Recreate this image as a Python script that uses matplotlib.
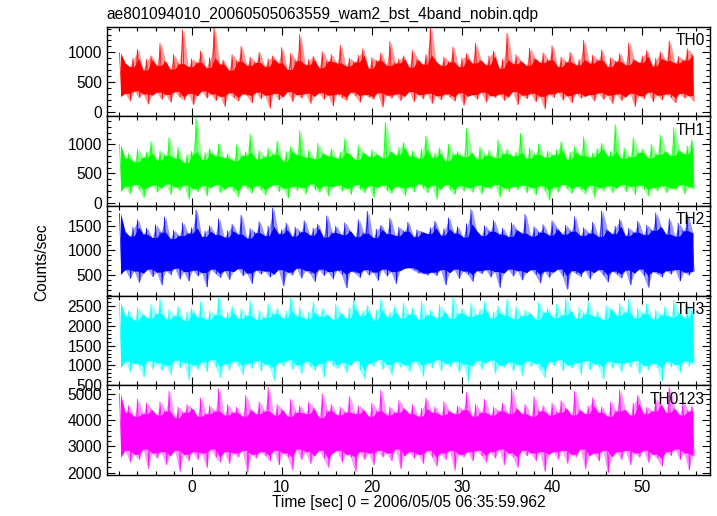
import numpy as np
import pandas as pd
import matplotlib
matplotlib.use('Agg')
import matplotlib.pyplot as plt
from matplotlib.ticker import MultipleLocator

plt.rcParams['font.family'] = ['Liberation Sans', 'DejaVu Sans']

# Light curve: 0.25 s bins starting at t = -8 s (read/estimated from the picture)
t_start = -8.0
bin_width = 0.25

th0 = [
    990, 260, 820, 310, 760, 180, 900, 350, 1050, 240, 700, 300, 880, 130, 940, 280,
    780, 330, 1150, 210, 850, 290, 720, 160, 960, 340, 810, 250, 1380, 200, 760, 310,
    890, 120, 830, 270, 1020, 350, 740, 230, 910, 300, 1420, 190, 800, 260, 870, 90,
    700, 320, 960, 240, 850, 180, 1100, 300, 780, 270, 920, 150, 830, 330, 1000, 220,
    760, 280, 890, 60, 940, 310, 820, 200, 1080, 250, 710, 340, 980, 170, 860, 290,
    1300, 230, 790, 310, 880, 140, 930, 260, 740, 320, 1010, 210, 850, 280, 960, 100,
    820, 300, 1120, 240, 770, 190, 900, 330, 840, 270, 950, 160, 1060, 290, 730, 250,
    910, 210, 860, 320, 990, 80, 780, 280, 1180, 230, 820, 300, 890, 190, 940, 260,
    750, 340, 1030, 170, 880, 290, 800, 220, 960, 310, 1430, 140, 850, 270, 780, 200,
    920, 300, 840, 250, 1090, 180, 760, 320, 900, 110, 980, 260, 820, 290, 1150, 210,
    870, 330, 790, 160, 940, 270, 1020, 240, 730, 300, 880, 190, 1320, 250, 810, 340,
    960, 120, 850, 280, 780, 220, 1070, 310, 900, 170, 830, 260, 990, 50, 870, 300,
    1110, 240, 760, 330, 920, 200, 840, 270, 1000, 150, 790, 310, 880, 230, 1200, 260,
    820, 290, 950, 180, 870, 320, 1040, 210, 760, 280, 910, 140, 850, 300, 980, 190,
    790, 250, 1160, 310, 880, 90, 830, 270, 940, 220, 1030, 330, 770, 170, 900, 280,
    1010, 200, 860, 300, 1190, 240, 820, 150, 930, 310, 870, 230, 1060, 270, 960, 180,
]

th1 = [
    1000, 200, 760, 280, 840, 150, 700, 310, 920, 230, 780, 90, 860, 260, 1050, 300,
    730, 180, 890, 250, 810, 320, 1120, 140, 760, 270, 950, 210, 690, 300, 830, 60,
    880, 240, 1460, 190, 740, 290, 860, 120, 930, 260, 800, 310, 1010, 170, 770, 230,
    840, 280, 720, 200, 990, 100, 810, 300, 870, 240, 1180, 160, 750, 290, 900, 220,
    790, 130, 940, 270, 830, 310, 1060, 190, 710, 250, 880, 80, 960, 280, 820, 210,
    1240, 260, 780, 150, 900, 320, 750, 230, 1020, 180, 850, 290, 800, 110, 930, 270,
    760, 300, 870, 200, 1100, 250, 820, 140, 740, 310, 980, 230, 860, 170, 790, 290,
    910, 90, 830, 260, 770, 300, 1380, 210, 880, 160, 820, 280, 950, 240, 1030, 120,
    800, 280, 890, 190, 760, 320, 920, 250, 1140, 170, 780, 300, 850, 60, 940, 230,
    720, 310, 1000, 220, 830, 140, 880, 290, 790, 200, 1270, 260, 860, 180, 750, 300,
    960, 150, 810, 270, 900, 230, 770, 310, 1080, 100, 840, 250, 920, 190, 800, 280,
    870, 220, 1190, 300, 760, 170, 940, 260, 830, 130, 1010, 290, 780, 210, 890, 40,
    820, 270, 910, 180, 1050, 310, 740, 240, 870, 160, 960, 280, 810, 220, 1130, 150,
    780, 300, 850, 90, 930, 260, 1020, 200, 800, 290, 880, 170, 1340, 250, 760, 310,
    940, 190, 790, 280, 1110, 140, 860, 300, 920, 230, 770, 110, 1000, 260, 830, 200,
    1160, 290, 880, 170, 810, 250, 1290, 220, 900, 310, 840, 150, 970, 270, 1080, 230,
]

th2 = [
    1750, 520, 1380, 610, 1290, 430, 1470, 580, 1620, 350, 1330, 540, 1450, 620, 1260, 470,
    1520, 560, 1370, 300, 1680, 590, 1240, 510, 1410, 640, 1300, 420, 1560, 570, 1350, 380,
    1460, 600, 1820, 480, 1280, 550, 1390, 260, 1500, 620, 1320, 530, 1640, 450, 1270, 590,
    1400, 410, 1530, 570, 1330, 630, 1710, 490, 1250, 540, 1440, 330, 1360, 600, 1580, 520,
    1300, 580, 1490, 460, 1860, 520, 1340, 610, 1420, 280, 1550, 560, 1290, 500, 1470, 640,
    1380, 440, 1600, 590, 1310, 530, 1450, 370, 1530, 620, 1270, 490, 1700, 570, 1360, 420,
    1490, 600, 1320, 510, 1560, 240, 1400, 580, 1280, 540, 1620, 450, 1350, 610, 1790, 500,
    1260, 560, 1430, 390, 1510, 620, 1340, 480, 1650, 570, 1300, 330, 1470, 590, 1390, 640,
    1570, 650, 1280, 600, 1420, 540, 1380, 540, 1340, 500, 1460, 560, 1590, 490, 1310, 610,
    1440, 300, 1660, 550, 1350, 620, 1480, 430, 1270, 580, 1540, 510, 1830, 370, 1400, 590,
    1300, 530, 1500, 610, 1390, 460, 1610, 570, 1330, 250, 1450, 540, 1280, 620, 1560, 480,
    1420, 590, 1350, 400, 1730, 550, 1290, 610, 1480, 510, 1370, 340, 1520, 580, 1310, 450,
    1600, 560, 1440, 620, 1330, 480, 1510, 210, 1390, 590, 1680, 530, 1300, 470, 1460, 600,
    1350, 420, 1570, 550, 1280, 610, 1800, 500, 1420, 360, 1340, 580, 1490, 520, 1630, 440,
    1300, 600, 1450, 300, 1370, 540, 1590, 620, 1320, 490, 1510, 250, 1410, 570, 1760, 530,
    1480, 460, 1330, 590, 1640, 520, 1290, 610, 1550, 380, 1400, 560, 1720, 500, 1350, 580,
]

th3 = [
    2600, 950, 2250, 1100, 2380, 820, 2150, 1050, 2480, 980, 2300, 700, 2200, 1120, 2550, 900,
    2320, 1060, 2700, 870, 2180, 1000, 2420, 760, 2260, 1130, 2510, 940, 2140, 1070, 2360, 620,
    2450, 1010, 2230, 900, 2620, 1090, 2170, 830, 2390, 1150, 2290, 960, 2740, 680, 2210, 1040,
    2340, 880, 2500, 1110, 2190, 990, 2440, 760, 2270, 1060, 2650, 920, 2160, 1120, 2400, 850,
    2220, 1030, 2570, 940, 2310, 600, 2460, 1080, 2200, 970, 2380, 1140, 2720, 890, 2250, 1010,
    2480, 780, 2180, 1100, 2350, 960, 2610, 870, 2240, 1050, 2430, 700, 2290, 1130, 2170, 990,
    2560, 920, 2330, 1070, 2200, 810, 2470, 1000, 2700, 1120, 2260, 880, 2390, 650, 2520, 1060,
    2150, 970, 2410, 1150, 2680, 900, 2230, 1020, 2360, 760, 2490, 1090, 2200, 950, 2590, 1010,
    2300, 840, 2450, 1110, 2170, 990, 2630, 720, 2280, 1070, 2400, 930, 2210, 1140, 2540, 870,
    2370, 1050, 2190, 960, 2740, 1100, 2320, 820, 2460, 1030, 2240, 580, 2580, 980, 2290, 1120,
    2430, 900, 2620, 1060, 2200, 1130, 2360, 790, 2510, 1000, 2270, 950, 2690, 1080, 2180, 860,
    2500, 1020, 2260, 740, 2410, 1110, 2330, 970, 2170, 1050, 2600, 890, 2350, 680, 2450, 1090,
    2210, 990, 2550, 1140, 2280, 860, 2720, 1010, 2390, 930, 2190, 1070, 2470, 760, 2310, 1120,
    2640, 880, 2240, 1040, 2380, 970, 2160, 640, 2520, 1100, 2430, 920, 2270, 1060, 2580, 830,
    2350, 1080, 2680, 950, 2200, 1120, 2460, 780, 2310, 1000, 2570, 870, 2180, 1050, 2410, 940,
    2280, 600, 2490, 1090, 2230, 960, 2660, 1020, 2340, 820, 2210, 1110, 2550, 980, 2380, 1060,
]

th0123 = [
    5000, 2600, 4300, 2850, 4550, 2400, 4150, 2700, 4800, 2500, 4250, 2900, 4650, 2150, 4400, 2750,
    4200, 2550, 4700, 2800, 4350, 2300, 5100, 2650, 4100, 2850, 4500, 2050, 4300, 2700, 4600, 2450,
    4450, 2800, 4150, 2500, 4850, 2750, 4250, 2200, 4550, 2900, 4350, 2600, 5200, 2400, 4200, 2800,
    4600, 2350, 4300, 2750, 4500, 2600, 4150, 2850, 4950, 2000, 4400, 2700, 4250, 2550, 4700, 2800,
    4350, 2650, 5250, 2450, 4200, 2850, 4600, 2300, 4400, 2750, 4150, 2600, 4800, 2100, 4300, 2900,
    4550, 2500, 4250, 2800, 4700, 2350, 4450, 2650, 4100, 2850, 5000, 2550, 4350, 2200, 4600, 2750,
    4200, 2850, 4500, 2400, 4300, 2700, 4900, 2600, 4250, 2050, 4550, 2800, 4400, 2500, 4150, 2750,
    4650, 2300, 4350, 2850, 5150, 2600, 4200, 2750, 4500, 2450, 4300, 2900, 4750, 2150, 4450, 2650,
    4250, 2800, 4600, 2550, 4150, 2700, 4450, 2350, 4850, 2850, 4300, 2600, 4500, 2250, 4200, 2750,
    4700, 2500, 4350, 2850, 4250, 2100, 4550, 2700, 4400, 2600, 5050, 2800, 4150, 2450, 4600, 2850,
    4300, 2650, 4800, 2400, 4200, 2800, 4500, 2550, 4350, 2900, 4650, 2300, 4250, 2750, 5200, 2600,
    4450, 2200, 4250, 2850, 4600, 2650, 4150, 2750, 4900, 2450, 4350, 2800, 4550, 2050, 4200, 2700,
    4650, 2800, 4300, 2500, 4750, 2850, 4450, 2350, 4200, 2700, 5100, 2600, 4400, 2900, 4250, 2150,
    4550, 2650, 4850, 2750, 4300, 2450, 4500, 2850, 4150, 2000, 4700, 2600, 4350, 2800, 5150, 2500,
    4400, 2850, 4200, 2300, 4650, 2750, 4950, 2600, 4250, 2850, 4500, 2400, 4350, 2700, 4800, 2550,
    4600, 2250, 4300, 2800, 5250, 2650, 4450, 2900, 4200, 2500, 4700, 2750, 4350, 2100, 4550, 2650,
]

names = ['TH0', 'TH1', 'TH2', 'TH3', 'TH0123']
series = [th0, th1, th2, th3, th0123]
colors = ['#ff0000', '#00ff00', '#0000ff', '#00ffff', '#ff00ff']
ylims = [(-80, 1430), (-60, 1480), (80, 1900), (490, 2770), (1910, 5330)]
ymajor = [500, 500, 500, 500, 1000]
yminor = [100, 100, 100, 100, 200]

fig, axes = plt.subplots(5, 1, sharex=True, figsize=(7.17, 5.16), dpi=100)
fig.subplots_adjust(left=0.149, right=0.990, top=0.948, bottom=0.0795, hspace=0)

fs = 11.2
for ax, name, vals, c, yl, mj, mn in zip(axes, names, series, colors, ylims, ymajor, yminor):
    vals = np.asarray(vals, dtype=float)
    t = t_start + bin_width * np.arange(len(vals))
    tp = t[0::2] + bin_width / 2
    hi = pd.Series(vals[0::2])
    lo = pd.Series(vals[1::2])
    # outer envelope (antialiased fringe) and dense core
    ax.fill_between(tp, lo, hi, color=c, alpha=0.4, lw=0)
    core_hi = hi.rolling(2, min_periods=1).min()
    core_lo = lo.rolling(2, min_periods=1).max()
    ax.fill_between(tp, core_lo, core_hi, color=c, lw=0)
    ax.plot(t, vals, color=c, lw=0.6, alpha=0.9)
    ax.set_ylim(*yl)
    ax.set_xlim(-9.4, 57.5)
    ax.yaxis.set_major_locator(MultipleLocator(mj))
    ax.yaxis.set_minor_locator(MultipleLocator(mn))
    ax.xaxis.set_major_locator(MultipleLocator(10))
    ax.xaxis.set_minor_locator(MultipleLocator(2))
    ax.tick_params(which='both', direction='in', top=True, right=True, labelsize=fs)
    ax.tick_params(which='major', length=6, width=0.8)
    ax.tick_params(which='minor', length=3, width=0.8)
    for s in ax.spines.values():
        s.set_linewidth(1.0)
    ax.text(0.992, 0.93, name, transform=ax.transAxes, ha='right', va='top', fontsize=fs)

axes[-1].set_xlabel('Time [sec] 0 = 2006/05/05 06:35:59.962', fontsize=fs, labelpad=0)
fig.text(0.149, 0.972, 'ae801094010_20060505063559_wam2_bst_4band_nobin.qdp',
         ha='left', va='center', fontsize=fs)
fig.text(0.058, 1 - 262 / 516, 'Counts/sec', rotation=90, ha='center', va='center', fontsize=fs)

plt.savefig('out.png', dpi=100)
